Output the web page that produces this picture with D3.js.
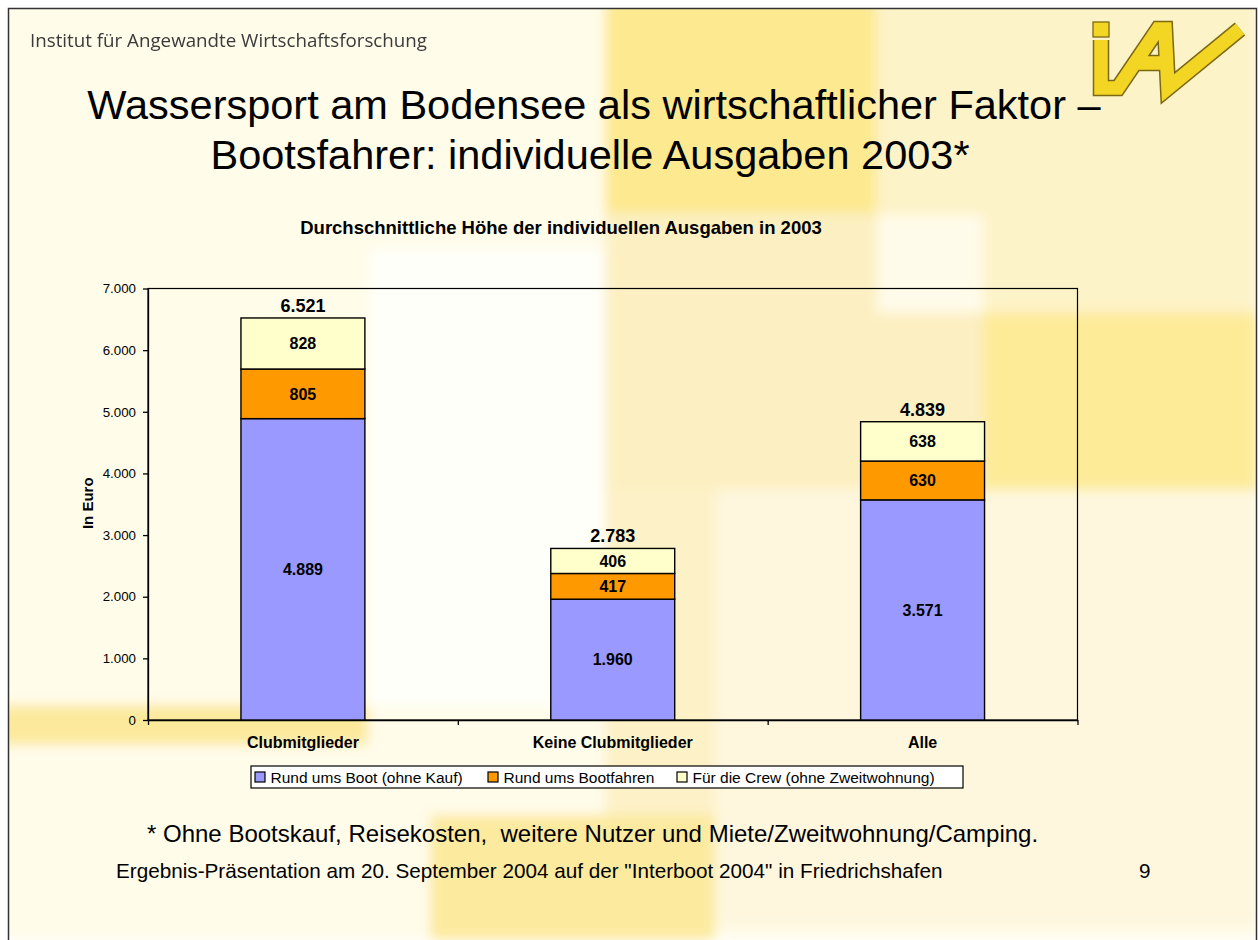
<!DOCTYPE html>
<html>
<head>
<meta charset="utf-8">
<script src="https://cdn.jsdelivr.net/npm/d3@7"></script>
<style>
  body { margin: 0; background: #fff; }
  svg { display: block; font-family: "Liberation Sans", Arial, sans-serif; }
  .axis text { font-family: "Liberation Sans", Arial, sans-serif; fill: #000; }
</style>
</head>
<body>
<svg id="slide" width="1258" height="940"></svg>
<script>
// chart values
const categories = ["Clubmitglieder", "Keine Clubmitglieder", "Alle"];
const seriesNames = ["Rund ums Boot (ohne Kauf)", "Rund ums Bootfahren", "Für die Crew (ohne Zweitwohnung)"];
const bootValues = [4889, 1960, 3571];
const bootfahrenValues = [805, 417, 630];
const crewValues = [828, 406, 638];
const totals = [6521, 2783, 4839];
const yTicks = [0, 1000, 2000, 3000, 4000, 5000, 6000, 7000];
const seriesColors = ["#9999ff", "#ff9900", "#ffffcc"];

const de = d3.formatLocale({decimal: ",", thousands: ".", grouping: [3], currency: ["", " €"]});
const fmt = de.format(",d");

const svg = d3.select("#slide");

// slide background (soft yellow blocks)
const defs = svg.append("defs");
defs.append("filter").attr("id", "soft")
    .attr("x", "-5%").attr("y", "-5%").attr("width", "110%").attr("height", "110%")
  .append("feGaussianBlur").attr("stdDeviation", 6);
defs.append("filter").attr("id", "fuzz")
  .append("feGaussianBlur").attr("stdDeviation", 0.45);
defs.append("clipPath").attr("id", "slideClip")
  .append("rect").attr("x", 9).attr("y", 9).attr("width", 1248).attr("height", 931);

const bgBlocks = [
  {x: 0, y: 0, w: 1258, h: 940, c: "#fffcea"},
  {x: 370, y: 250, w: 235, h: 455, c: "#fffffa"},
  {x: 605, y: 0, w: 271, h: 213, c: "#fde98f"},
  {x: 605, y: 213, w: 271, h: 277, c: "#fcf0c2"},
  {x: 876, y: 0, w: 382, h: 313, c: "#fdf3c8"},
  {x: 878, y: 215, w: 105, h: 98, c: "#fffbea"},
  {x: 983, y: 313, w: 275, h: 177, c: "#fdeb98"},
  {x: 876, y: 313, w: 107, h: 177, c: "#fcefc2"},
  {x: 605, y: 490, w: 110, h: 330, c: "#fdf1c8"},
  {x: 715, y: 490, w: 543, h: 437, c: "#fef7de"},
  {x: 0, y: 705, w: 368, h: 40, c: "#fce99c"},
  {x: 430, y: 815, w: 285, h: 125, c: "#fcea9f"}
];
svg.append("g").attr("clip-path", "url(#slideClip)")
  .append("g").attr("filter", "url(#soft)")
  .selectAll("rect").data(bgBlocks).join("rect")
    .attr("x", d => d.x).attr("y", d => d.y)
    .attr("width", d => d.w).attr("height", d => d.h)
    .attr("fill", d => d.c);

// slide frame
svg.append("path")
    .attr("d", "M8.5,940 V8.5 H1256.5 V940")
    .attr("fill", "none").attr("stroke", "#333").attr("stroke-width", 1.5);

// header
svg.append("text")
    .attr("x", 30).attr("y", 47)
    .attr("font-family", "'Open Sans', sans-serif")
    .attr("font-size", 18)
    .attr("fill", "#3a3a3a")
    .attr("filter", "url(#fuzz)")
    .attr("textLength", 397).attr("lengthAdjust", "spacingAndGlyphs")
    .text("Institut für Angewandte Wirtschaftsforschung");

// logo
const logo = svg.append("g").attr("stroke-linejoin", "miter");
const logoPath = "M1101,40 L1101,88 L1118,88 L1158,29 L1165,29 L1168,88 L1240,29 M1132,63 L1164,63";
logo.append("path").attr("d", logoPath).attr("fill", "none").attr("stroke", "#7d6812").attr("stroke-width", 16.5);
logo.append("rect").attr("x", 1093).attr("y", 22).attr("width", 16).attr("height", 15)
    .attr("fill", "#f3d623").attr("stroke", "#7d6812").attr("stroke-width", 1.3);
logo.append("path").attr("d", logoPath).attr("fill", "none").attr("stroke", "#f3d623").attr("stroke-width", 13.5);

// slide title
const title = svg.append("text").attr("text-anchor", "middle").attr("font-size", 41.5).attr("fill", "#000");
title.append("tspan").attr("x", 594).attr("y", 119).text("Wassersport am Bodensee als wirtschaftlicher Faktor –");
title.append("tspan").attr("x", 590).attr("y", 168.5).text("Bootsfahrer: individuelle Ausgaben 2003*");

// chart
const plot = {left: 148, top: 288.5, right: 1077.5, bottom: 720};

const x = d3.scaleBand()
    .domain(categories)
    .range([plot.left, plot.right])
    .paddingInner(0.6)
    .paddingOuter(0.3);

const slot = d3.scaleLinear().domain([0, categories.length]).range([plot.left, plot.right]);

const y = d3.scaleLinear().domain([0, 7000]).range([plot.bottom, plot.top]);

const rows = categories.map((c, i) => ({
  category: c,
  boot: bootValues[i],
  bootfahren: bootfahrenValues[i],
  crew: crewValues[i]
}));
const keys = ["boot", "bootfahren", "crew"];
const stacked = d3.stack().keys(keys)(rows);

const chart = svg.append("g");

chart.append("text")
    .attr("x", 561).attr("y", 234)
    .attr("text-anchor", "middle")
    .attr("font-size", 18.5).attr("font-weight", "bold")
    .text("Durchschnittliche Höhe der individuellen Ausgaben in 2003");

// plot frame
chart.append("rect")
    .attr("x", plot.left).attr("y", plot.top)
    .attr("width", plot.right - plot.left).attr("height", plot.bottom - plot.top)
    .attr("fill", "none").attr("stroke", "#000").attr("stroke-width", 1.2);

// y axis
chart.append("g")
    .attr("class", "axis y-axis")
    .attr("transform", `translate(${plot.left},0)`)
    .call(d3.axisLeft(y).tickValues(yTicks).tickFormat(fmt).tickSize(5).tickSizeOuter(0).tickPadding(7))
    .call(g => g.selectAll("text").attr("font-size", 13.3))
    .call(g => g.selectAll("line, path").attr("stroke", "#000").attr("stroke-width", 1.3));

chart.append("text")
    .attr("transform", `translate(93,${(plot.top + plot.bottom) / 2 - 1}) rotate(-90)`)
    .attr("text-anchor", "middle")
    .attr("font-size", 15).attr("font-weight", "bold")
    .text("In Euro");

// x axis (ticks between categories)
chart.append("g")
    .attr("class", "axis x-axis")
    .attr("transform", `translate(0,${plot.bottom})`)
    .call(d3.axisBottom(slot).tickValues(d3.range(categories.length + 1)).tickFormat("").tickSize(5).tickSizeOuter(0))
    .call(g => g.selectAll("line, path").attr("stroke", "#000").attr("stroke-width", 1.3));

chart.append("g")
    .attr("class", "axis x-labels")
    .attr("transform", `translate(0,${plot.bottom})`)
    .call(d3.axisBottom(x).tickSize(0).tickPadding(17))
    .call(g => g.select(".domain").remove())
    .call(g => g.selectAll("text").attr("font-size", 16).attr("font-weight", "bold").attr("dy", "0.71em"));

// stacked bars
const layers = chart.selectAll("g.layer")
  .data(stacked)
  .join("g")
    .attr("class", "layer")
    .attr("fill", (d, i) => seriesColors[i]);

layers.selectAll("rect")
  .data(d => d)
  .join("rect")
    .attr("x", d => x(d.data.category))
    .attr("y", d => y(d[1]))
    .attr("width", x.bandwidth())
    .attr("height", d => y(d[0]) - y(d[1]))
    .attr("stroke", "#000")
    .attr("stroke-width", 1.4);

layers.selectAll("text")
  .data(d => d)
  .join("text")
    .attr("x", d => x(d.data.category) + x.bandwidth() / 2)
    .attr("y", d => (y(d[0]) + y(d[1])) / 2)
    .attr("dy", "0.36em")
    .attr("text-anchor", "middle")
    .attr("font-size", 16).attr("font-weight", "bold")
    .attr("fill", "#000")
    .text(d => fmt(d[1] - d[0]));

// totals
chart.selectAll("text.total")
  .data(categories)
  .join("text")
    .attr("class", "total")
    .attr("x", c => x(c) + x.bandwidth() / 2)
    .attr("y", (c, i) => y(d3.sum(keys, k => rows[i][k])) - 6)
    .attr("text-anchor", "middle")
    .attr("font-size", 18).attr("font-weight", "bold")
    .text((c, i) => fmt(totals[i]));

// legend
const legend = chart.append("g").attr("transform", "translate(251,766)");
legend.append("rect")
    .attr("width", 712).attr("height", 22)
    .attr("fill", "#fff").attr("stroke", "#000").attr("stroke-width", 1.2);
const legendX = [4, 237, 426];
const items = legend.selectAll("g.item")
  .data(seriesNames)
  .join("g")
    .attr("class", "item")
    .attr("transform", (d, i) => `translate(${legendX[i]},0)`);
items.append("rect")
    .attr("y", 6).attr("width", 10).attr("height", 10)
    .attr("fill", (d, i) => seriesColors[i])
    .attr("stroke", "#000").attr("stroke-width", 1.2);
items.append("text")
    .attr("x", 15.5).attr("y", 16.5)
    .attr("font-size", 15.5)
    .text(d => d);

// footnotes
svg.append("text")
    .attr("x", 147).attr("y", 842)
    .attr("font-size", 24)
    .style("white-space", "pre")
    .text("* Ohne Bootskauf, Reisekosten,  weitere Nutzer und Miete/Zweitwohnung/Camping.");

svg.append("text")
    .attr("x", 116).attr("y", 878)
    .attr("font-size", 20.7)
    .text("Ergebnis-Präsentation am 20. September 2004 auf der \"Interboot 2004\" in Friedrichshafen");

svg.append("text")
    .attr("x", 1139).attr("y", 878)
    .attr("font-size", 20.7)
    .text("9");
</script>
</body>
</html>
